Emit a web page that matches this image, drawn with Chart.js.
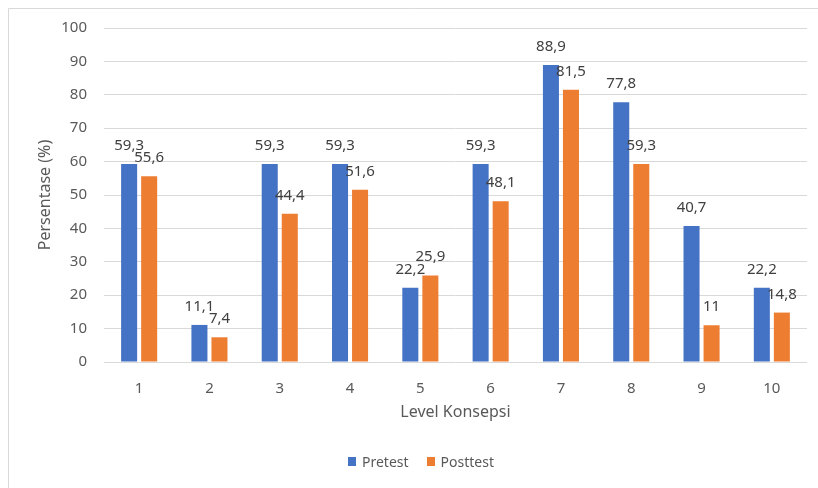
<!DOCTYPE html>
<html>
<head>
<meta charset="utf-8">
<script src="https://cdn.jsdelivr.net/npm/chart.js@4/dist/chart.umd.min.js"></script>
<style>
  html, body { margin: 0; padding: 0; background: #ffffff; }
  canvas { display: block; }
</style>
</head>
<body>
<canvas id="chart" width="818" height="488"></canvas>
<script>
// Concept levels and percentages per test
const categories = ['1', '2', '3', '4', '5', '6', '7', '8', '9', '10'];
const pretest = [59.3, 11.1, 59.3, 59.3, 22.2, 59.3, 88.9, 77.8, 40.7, 22.2];
const posttest = [55.6, 7.4, 44.4, 51.6, 25.9, 48.1, 81.5, 59.3, 11, 14.8];
const seriesNames = ['Pretest', 'Posttest'];
const seriesColors = ['#4472C4', '#ED7D31'];
const yMin = 0, yMax = 100, yStep = 10;

const FONT = "'Noto Sans', 'Open Sans', sans-serif";
const TEXT = '#595959';

// White background and the light frame of the chart box
const framePlugin = {
  id: 'frame',
  beforeDraw(chart) {
    const ctx = chart.ctx;
    ctx.save();
    ctx.fillStyle = '#ffffff';
    ctx.fillRect(0, 0, chart.width, chart.height);
    ctx.strokeStyle = '#d9d9d9';
    ctx.lineWidth = 1;
    ctx.beginPath();
    ctx.moveTo(8.5, chart.height);
    ctx.lineTo(8.5, 8.5);
    ctx.lineTo(chart.width, 8.5);
    ctx.stroke();
    ctx.restore();
  }
};

// Value labels above each bar, with decimal comma
const valueLabels = {
  id: 'valueLabels',
  afterDatasetsDraw(chart) {
    const ctx = chart.ctx;
    ctx.save();
    ctx.font = '15px ' + FONT;
    ctx.fillStyle = '#404040';
    ctx.textAlign = 'center';
    ctx.textBaseline = 'alphabetic';
    chart.data.datasets.forEach((ds, i) => {
      chart.getDatasetMeta(i).data.forEach((bar, j) => {
        const txt = String(ds.data[j]).replace('.', ',');
        ctx.fillText(txt, bar.x, bar.y - 14);
      });
    });
    ctx.restore();
  }
};

// Legend row under the axis title
const bottomLegend = {
  id: 'bottomLegend',
  afterDraw(chart) {
    const ctx = chart.ctx;
    ctx.save();
    ctx.font = '14px ' + FONT;
    ctx.textBaseline = 'middle';
    ctx.textAlign = 'left';
    const box = 8, gap = 6, spacing = 18, cy = 462;
    const items = chart.data.datasets.map(ds => ({
      label: ds.label, color: ds.backgroundColor,
      w: box + gap + ctx.measureText(ds.label).width
    }));
    const total = items.reduce((s, it) => s + it.w, 0) + spacing * (items.length - 1);
    let x = 421 - total / 2;
    items.forEach(it => {
      ctx.fillStyle = it.color;
      ctx.fillRect(Math.round(x), cy - 5, box, 9);
      ctx.fillStyle = TEXT;
      ctx.fillText(it.label, x + box + gap, cy + 1);
      x += it.w + spacing;
    });
    ctx.restore();
  }
};

new Chart(document.getElementById('chart'), {
  type: 'bar',
  data: {
    labels: categories,
    datasets: [
      { label: seriesNames[0], data: pretest, backgroundColor: seriesColors[0] },
      { label: seriesNames[1], data: posttest, backgroundColor: seriesColors[1] }
    ]
  },
  options: {
    responsive: false,
    animation: false,
    devicePixelRatio: 1,
    categoryPercentage: 0.57,
    barPercentage: 0.8,
    layout: { padding: { left: 0, right: 11, top: 28, bottom: 66 } },
    plugins: {
      legend: { display: false },
      tooltip: { enabled: false }
    },
    scales: {
      x: {
        grid: { display: false },
        border: { display: false },
        ticks: { color: TEXT, font: { family: FONT, size: 15 }, padding: 10 },
        title: {
          display: true, text: 'Level Konsepsi', color: TEXT,
          font: { family: FONT, size: 16 }, padding: { top: 0, bottom: 0 }
        },
        afterFit(scale) { scale.height = 60; }
      },
      y: {
        min: yMin, max: yMax,
        grid: { color: '#d9d9d9', drawTicks: false },
        border: { display: false },
        ticks: { stepSize: yStep, color: TEXT, font: { family: FONT, size: 15 }, padding: 17 },
        title: {
          display: true, text: 'Persentase (%)', color: TEXT,
          font: { family: FONT, size: 16 }, padding: { top: 36, bottom: 0 }
        },
        afterFit(scale) { scale.width = 104; }
      }
    }
  },
  plugins: [framePlugin, valueLabels, bottomLegend]
});
</script>
</body>
</html>
